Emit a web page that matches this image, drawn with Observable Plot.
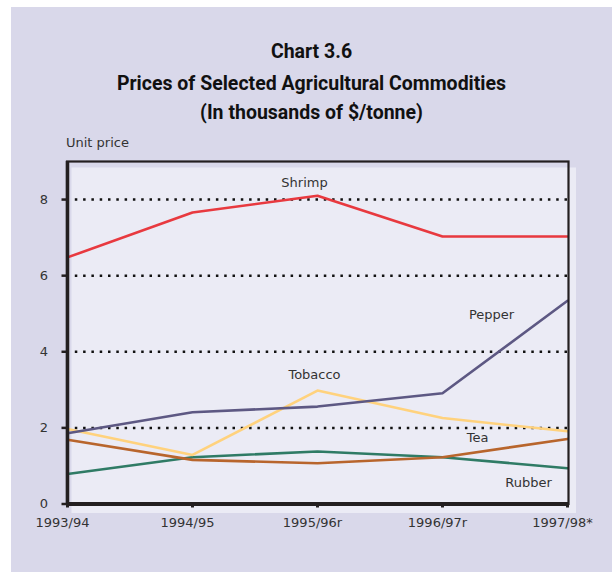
<!DOCTYPE html>
<html>
<head>
<meta charset="utf-8">
<script src="https://cdn.jsdelivr.net/npm/d3@7"></script>
<script src="https://cdn.jsdelivr.net/npm/@observablehq/plot@0.6"></script>
<style>
  html, body { margin: 0; padding: 0; background: #ffffff; }
  #page { position: relative; width: 612px; height: 572px; overflow: hidden; font-family: "DejaVu Sans", sans-serif; }
  #bg { position: absolute; left: 11px; top: 7px; right: 0; bottom: 0; background: #d9d8ea; }
  .title { position: absolute; left: 11px; width: 601px; text-align: center; font-family: Roboto, "Liberation Sans", sans-serif; font-weight: 700; font-size: 19.5px; line-height: 24px; color: #111; }
  #unit { position: absolute; left: 66px; top: 135px; font-size: 13px; color: #333; }
  #chart { position: absolute; left: 0; top: 130px; }
</style>
</head>
<body>
<div id="page">
  <div id="bg"></div>
  <div class="title" style="top:40px">Chart 3.6</div>
  <div class="title" style="top:72px">Prices of Selected Agricultural Commodities</div>
  <div class="title" style="top:101px">(In thousands of $/tonne)</div>
  <div id="unit">Unit price</div>
  <div id="chart"></div>
</div>
<script>
const years = ["1993/94", "1994/95", "1995/96r", "1996/97r", "1997/98*"];
const shrimp  = [6.48, 7.66, 8.10, 7.03, 7.03];
const pepper  = [1.86, 2.41, 2.56, 2.91, 5.34];
const tobacco = [1.97, 1.29, 2.98, 2.26, 1.91];
const tea     = [1.69, 1.16, 1.07, 1.23, 1.71];
const rubber  = [0.79, 1.23, 1.38, 1.23, 0.94];
const yTicks  = [0, 2, 4, 6, 8];

const seriesNames = ["Rubber", "Tea", "Tobacco", "Pepper", "Shrimp"];
const seriesValues = [rubber, tea, tobacco, pepper, shrimp];
const seriesColors = ["#2f7b65", "#b8652c", "#ffd27d", "#5d5883", "#e8393f"];

const rows = [];
seriesNames.forEach((name, i) => {
  years.forEach((yr, j) => rows.push({series: name, year: yr, value: seriesValues[i][j]}));
});

// label anchor points (series, year) and offsets
const labelDefs = [
  {series: "Shrimp",  year: "1995/96r", dx: -13, dy: -13},
  {series: "Pepper",  year: "1996/97r", dx: 49,  dy: -78},
  {series: "Tobacco", year: "1995/96r", dx: -3,  dy: -16},
  {series: "Tea",     year: "1996/97r", dx: 35,  dy: -19},
  {series: "Rubber",  year: "1997/98*", dx: -39, dy: 15}
];
const labelRows = labelDefs.map(d => ({...d, value: rows.find(r => r.series === d.series && r.year === d.year).value}));

const ink = "#231f20";
const textColor = "#333333";

const marks = [
  Plot.frame({fill: "#ebebf5", dx: 4.5, dy: 6, insetRight: -3, insetBottom: -3}),
  Plot.gridY(yTicks.filter(d => d > 0), {stroke: "#111", strokeOpacity: 1, strokeWidth: 2.5, strokeDasharray: "2.5,5.8"})
];
seriesNames.forEach((name, i) => {
  marks.push(Plot.line(rows.filter(r => r.series === name), {x: "year", y: "value", stroke: seriesColors[i], strokeWidth: 2.6}));
});
labelRows.forEach(d => {
  marks.push(Plot.text([d], {x: "year", y: "value", text: "series", dx: d.dx, dy: d.dy, fill: textColor, fontSize: 13}));
});
marks.push(
  Plot.frame({stroke: ink, strokeWidth: 2.2}),
  Plot.ruleX([years[0]], {stroke: ink, strokeWidth: 3.5}),
  Plot.ruleY([0], {stroke: ink, strokeWidth: 4}),
  Plot.axisY({ticks: yTicks, tickSize: 5, tickPadding: 14, strokeWidth: 2.5, stroke: ink, fill: textColor, fontSize: 13, label: null}),
  Plot.axisX({tickSize: 4, tickPadding: 10, strokeWidth: 3, stroke: ink, fill: textColor, fontSize: 13, label: null}),
);
// shift x tick labels slightly left, as in the reference
const chart = Plot.plot({
  width: 612,
  height: 442,
  marginLeft: 66.5,
  marginRight: 44,
  marginTop: 31,
  marginBottom: 68.5,
  style: {background: "transparent", fontFamily: "DejaVu Sans, sans-serif", fontSize: "13px", overflow: "visible"},
  x: {type: "point", domain: years, padding: 0},
  y: {domain: [0, 9]},
  marks
});
chart.querySelectorAll('[aria-label="x-axis tick label"] text').forEach(t => t.setAttribute("dx", "-5"));
document.getElementById("chart").appendChild(chart);
</script>
</body>
</html>
